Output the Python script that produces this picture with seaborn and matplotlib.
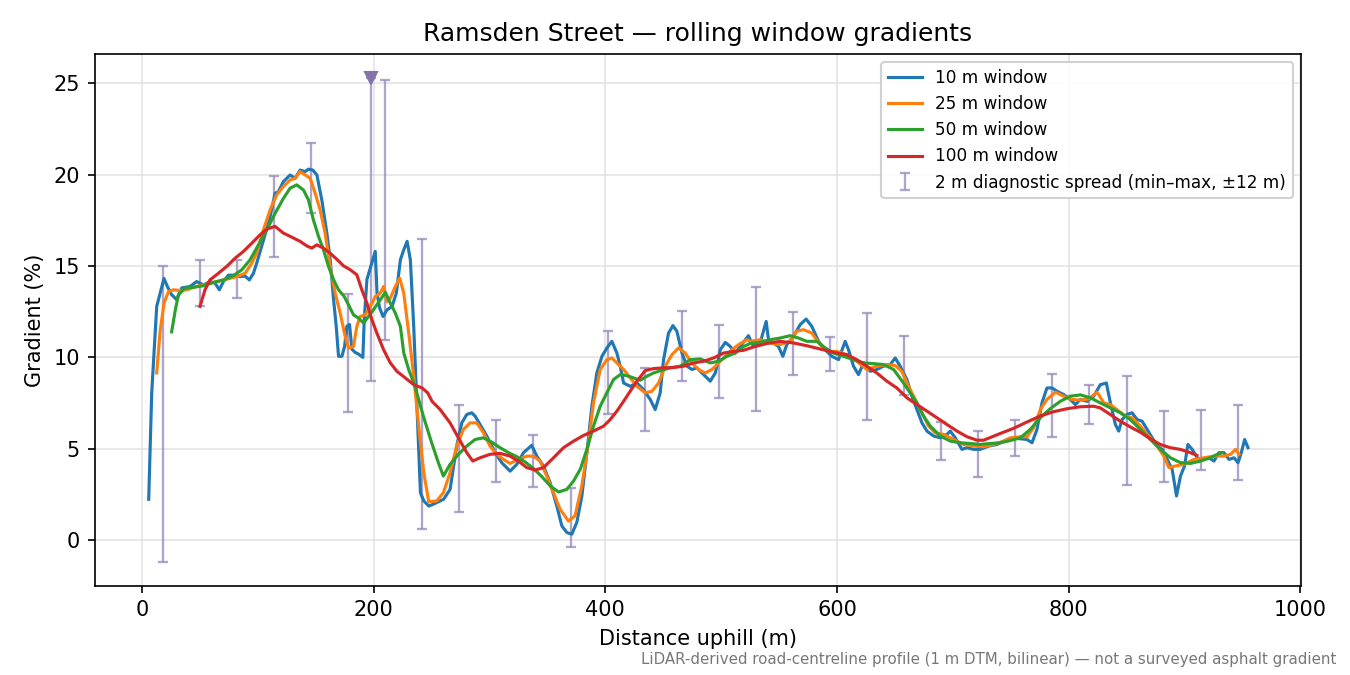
import numpy as np
import pandas as pd
import matplotlib
matplotlib.use("Agg")
import matplotlib.pyplot as plt
import seaborn as sns

# ---------------- data ----------------
w10_x = [5.8, 8.4, 12.7, 15.6, 19.0, 21.9, 25.6, 30.0, 34.3, 41.5, 47.2, 53.0, 58.8, 63.1, 66.8, 70.3, 74.6, 78.9, 84.7, 89.0,
         92.7, 96.2, 99.0, 104.8, 110.6, 114.9, 117.8, 122.1, 127.9, 132.2, 136.5, 140.9, 143.7, 147.5, 151.0, 155.3, 159.6, 162.5,
         165.4, 167.7, 169.7, 172.6, 174.9, 176.9, 179.2, 181.2, 184.1, 187.0, 190.7, 191.9, 194.2, 198.5, 201.4, 202.9, 205.2,
         208.1, 211.5, 215.9, 219.6, 223.1, 226.0, 228.9, 231.7, 234.6, 237.5, 240.4, 243.3, 247.6, 251.6, 260.4, 266.0, 271.7,
         276.1, 280.4, 284.7, 287.6, 291.9, 297.7, 304.9, 310.6, 317.8, 323.6, 329.4, 336.5, 340.9, 346.6, 352.4, 358.1, 362.5,
         366.8, 371.1, 375.4, 379.8, 384.1, 388.4, 392.7, 397.1, 401.4, 405.7, 410.0, 412.9, 415.8, 421.5, 427.3, 433.0, 438.8,
         443.1, 447.4, 450.3, 454.6, 458.4, 461.8, 466.2, 470.5, 474.8, 479.1, 484.9, 490.6, 495.0, 499.3, 503.6, 507.9, 512.2,
         516.5, 523.6, 527.9, 533.7, 538.9, 540.9, 545.2, 549.5, 553.3, 556.7, 562.5, 568.2, 573.4, 578.3, 584.1, 589.8, 595.6,
         601.4, 607.1, 610.0, 614.3, 618.6, 622.9, 628.7, 634.5, 640.2, 646.0, 650.3, 654.6, 660.4, 664.7, 669.1, 673.4, 677.7,
         683.5, 689.2, 695.0, 697.9, 702.2, 707.9, 712.3, 718.0, 723.8, 731.0, 738.2, 746.8, 752.6, 758.3, 764.1, 768.4, 772.7,
         777.0, 781.3, 785.7, 790.0, 795.8, 801.5, 805.8, 810.2, 815.9, 821.7, 827.4, 832.6, 836.1, 840.4, 843.3, 846.2, 850.5,
         854.8, 859.2, 863.5, 867.8, 872.1, 876.5, 880.8, 885.1, 889.4, 893.2, 896.6, 900.1, 903.0, 906.7, 911.1, 915.4, 921.2,
         925.5, 929.8, 934.1, 938.5, 942.8, 946.3, 949.1, 952.0, 954.9]
w10_y = [2.24, 8.06, 12.79, 13.5, 14.32, 13.88, 13.43, 13.16, 13.8, 13.88, 14.15, 13.97, 14.15, 14.06, 13.7, 14.15, 14.5, 14.5,
         14.42, 14.45, 14.24, 14.6, 15.15, 16.4, 17.7, 18.98, 19.07, 19.62, 19.98, 19.8, 20.25, 20.17, 20.3, 20.25, 19.98, 18.6,
         16.8, 15.34, 13.16, 11.7, 10.06, 10.06, 10.6, 11.7, 11.8, 10.45, 10.27, 10.18, 10.0, 12.08, 14.27, 15.18, 15.8, 13.52,
         12.7, 12.24, 12.6, 12.79, 13.52, 15.34, 15.89, 16.35, 15.34, 11.7, 7.15, 2.6, 2.15, 1.87, 1.97, 2.24, 2.78, 5.15, 6.42,
         6.88, 6.97, 6.79, 6.33, 5.7, 4.79, 4.24, 3.78, 4.15, 4.79, 5.19, 4.6, 4.06, 3.15, 1.88, 0.78, 0.42, 0.33, 0.97, 2.42,
         4.79, 7.33, 9.15, 10.06, 10.52, 10.88, 10.24, 9.52, 8.6, 8.42, 8.6, 8.24, 7.7, 7.15, 8.06, 9.88, 11.33, 11.74, 11.43,
         10.24, 9.52, 9.34, 9.43, 9.06, 8.7, 9.15, 10.42, 10.82, 10.6, 10.24, 10.6, 11.19, 10.6, 10.79, 11.97, 10.97, 10.79,
         10.6, 10.06, 10.7, 11.15, 11.79, 12.1, 11.7, 10.88, 10.42, 10.06, 9.88, 10.88, 10.42, 9.52, 9.06, 9.7, 9.24, 9.34,
         9.52, 9.61, 9.97, 9.52, 8.79, 7.88, 7.15, 6.42, 5.97, 5.7, 5.6, 5.79, 5.97, 5.6, 4.97, 5.06, 4.97, 4.97, 5.15, 5.24,
         5.5, 5.6, 5.55, 5.51, 5.33, 6.06, 7.51, 8.33, 8.33, 8.15, 7.97, 7.7, 7.42, 7.7, 7.6, 7.88, 8.51, 8.6, 7.51, 6.33, 5.97,
         6.6, 6.88, 6.97, 6.6, 6.51, 6.06, 5.6, 5.15, 4.97, 4.42, 3.88, 2.42, 3.51, 4.06, 5.24, 4.97, 4.51, 4.42, 4.51, 4.33,
         4.79, 4.79, 4.42, 4.51, 4.24, 4.79, 5.51, 5.06]

w25_x = [12.7, 15.6, 19.0, 22.8, 27.1, 32.8, 38.6, 47.2, 55.9, 64.5, 73.2, 81.8, 89.0, 94.7, 99.0, 104.8, 110.6, 116.3, 122.1,
         127.9, 132.2, 136.5, 140.9, 145.2, 149.5, 153.8, 158.1, 162.5, 166.8, 171.1, 175.4, 178.3, 182.6, 185.5, 188.4, 192.7,
         197.1, 201.4, 205.7, 208.6, 211.5, 214.4, 218.7, 222.5, 226.0, 230.3, 234.6, 238.9, 243.3, 247.6, 254.5, 260.2, 266.0,
         271.7, 277.5, 283.3, 289.0, 294.8, 300.5, 306.3, 312.1, 317.8, 325.0, 332.2, 338.0, 343.7, 349.5, 355.3, 361.0, 368.2,
         373.9, 379.7, 385.5, 389.8, 395.6, 401.4, 405.7, 410.0, 415.8, 421.5, 427.3, 434.5, 440.3, 446.0, 451.8, 457.5, 463.3,
         469.0, 474.8, 480.6, 486.3, 492.1, 497.8, 503.6, 509.4, 515.1, 522.3, 525.0, 533.7, 542.3, 550.9, 559.6, 565.3, 571.1,
         578.3, 585.5, 592.7, 599.9, 608.5, 617.1, 625.8, 634.4, 643.1, 650.3, 656.0, 661.8, 667.6, 673.3, 679.1, 684.8, 692.0,
         700.7, 709.3, 718.0, 726.6, 735.2, 743.9, 749.6, 758.3, 764.1, 769.8, 775.6, 781.3, 788.6, 795.8, 803.0, 810.2, 817.4,
         824.6, 830.4, 836.1, 843.3, 849.1, 854.8, 862.0, 869.2, 876.5, 882.2, 886.6, 892.3, 899.5, 908.2, 916.8, 925.5, 934.1,
         939.9, 944.2, 947.1]
w25_y = [9.15, 11.4, 12.96, 13.6, 13.7, 13.66, 13.7, 13.88, 14.02, 14.15, 14.28, 14.42, 14.6, 15.15, 15.7, 16.97, 18.07, 18.89,
         19.35, 19.71, 19.8, 20.17, 19.98, 19.8, 18.98, 18.07, 16.8, 14.98, 13.52, 12.43, 11.15, 10.51, 10.6, 11.7, 12.24, 12.33,
         12.79, 13.33, 13.52, 13.88, 13.06, 13.24, 13.88, 14.33, 13.52, 11.33, 8.97, 6.24, 3.69, 2.1, 2.15, 2.6, 3.69, 5.15, 6.06,
         6.42, 6.42, 5.88, 5.15, 4.7, 4.42, 4.2, 4.42, 4.6, 4.6, 4.33, 3.51, 2.6, 1.69, 1.05, 1.33, 2.97, 5.33, 7.51, 9.34, 9.88,
         9.97, 9.7, 9.34, 8.88, 8.42, 8.06, 8.15, 8.6, 9.52, 10.15, 10.52, 10.24, 9.7, 9.34, 9.15, 9.34, 9.7, 10.06, 10.42, 10.7,
         10.97, 10.88, 10.97, 10.79, 10.7, 10.88, 11.43, 11.52, 11.33, 10.7, 10.33, 10.33, 10.15, 9.79, 9.34, 9.52, 9.61, 9.56,
         9.24, 8.42, 7.7, 6.97, 6.24, 5.88, 5.79, 5.51, 5.24, 5.15, 5.11, 5.24, 5.42, 5.6, 5.66, 5.66, 6.15, 7.15, 7.7, 8.1, 7.88,
         7.7, 7.66, 7.73, 8.1, 7.51, 7.42, 7.06, 6.79, 6.7, 6.24, 5.69, 5.15, 4.6, 3.97, 4.06, 4.15, 4.42, 4.51, 4.6, 4.6, 4.7,
         4.97, 4.7]

w50_x = [25.6, 28.5, 31.4, 37.1, 44.3, 53.0, 61.6, 70.3, 78.9, 86.1, 93.3, 100.5, 107.7, 114.9, 122.1, 127.9, 133.6, 139.4,
         143.7, 148.0, 152.4, 156.7, 161.0, 165.4, 169.7, 174.6, 178.3, 182.6, 187.0, 191.3, 195.6, 199.9, 205.7, 210.1, 214.4,
         218.7, 223.1, 226.0, 230.3, 235.7, 242.9, 250.1, 255.9, 260.2, 266.0, 273.2, 280.4, 287.6, 294.8, 302.0, 309.2, 316.4,
         323.6, 330.8, 338.0, 345.2, 352.4, 359.6, 366.8, 372.6, 378.4, 384.1, 389.8, 395.6, 401.4, 407.1, 412.9, 418.6, 424.4,
         430.2, 435.9, 441.7, 448.9, 456.1, 464.7, 473.4, 482.0, 490.6, 497.8, 505.0, 512.2, 519.4, 525.0, 533.7, 542.3, 550.9,
         559.6, 566.8, 574.0, 582.6, 589.8, 597.0, 605.7, 614.3, 622.9, 631.6, 640.2, 648.9, 657.5, 663.3, 669.1, 674.8, 680.6,
         689.2, 697.9, 706.5, 715.1, 723.8, 732.4, 741.0, 749.6, 758.3, 766.9, 775.6, 784.2, 792.9, 801.5, 810.2, 818.8, 827.4,
         836.1, 844.7, 853.3, 862.0, 870.6, 879.3, 887.9, 896.6, 905.2, 913.8, 922.5, 928.3, 932.6]
w50_y = [11.4, 12.5, 13.43, 13.79, 13.84, 13.92, 14.1, 14.24, 14.47, 14.79, 15.34, 16.16, 16.97, 17.88, 18.7, 19.26, 19.44,
         19.16, 18.62, 17.52, 16.62, 15.89, 14.98, 14.25, 13.7, 13.33, 12.88, 12.33, 12.15, 11.88, 12.24, 12.61, 13.15, 13.56,
         12.97, 12.43, 11.7, 10.24, 9.33, 8.42, 6.79, 5.33, 4.24, 3.51, 4.15, 4.7, 5.15, 5.51, 5.6, 5.36, 5.06, 4.79, 4.57, 4.28,
         3.92, 3.48, 2.97, 2.64, 2.78, 3.24, 3.88, 4.97, 6.24, 7.33, 8.06, 8.79, 9.06, 9.0, 8.88, 8.75, 8.97, 9.15, 9.3, 9.43,
         9.52, 9.88, 9.92, 9.7, 9.79, 10.06, 10.24, 10.6, 10.76, 10.83, 10.97, 11.06, 11.19, 11.06, 10.88, 10.88, 10.52, 10.24,
         10.06, 9.88, 9.7, 9.66, 9.61, 9.34, 8.6, 8.06, 7.51, 6.79, 6.24, 5.7, 5.42, 5.33, 5.29, 5.24, 5.29, 5.33, 5.45, 5.6,
         6.06, 6.7, 7.2, 7.6, 7.88, 7.95, 7.79, 7.51, 7.24, 6.97, 6.6, 6.06, 5.51, 4.97, 4.51, 4.24, 4.2, 4.33, 4.51, 4.7, 4.79]

w100_x = [50.1, 54.4, 58.7, 65.9, 73.2, 80.4, 87.6, 94.8, 102.0, 107.7, 114.9, 122.1, 129.3, 136.5, 142.3, 146.6, 150.9,
          156.7, 162.5, 168.2, 174.0, 179.7, 185.5, 189.8, 194.2, 198.5, 202.8, 208.6, 214.4, 220.1, 227.3, 234.6, 241.8, 246.7,
          250.4, 257.4, 266.0, 273.2, 280.4, 285.6, 291.9, 300.5, 309.2, 317.8, 325.0, 332.2, 339.4, 346.6, 355.3, 363.9, 372.6,
          381.2, 389.8, 398.5, 404.2, 410.0, 415.8, 421.5, 427.3, 434.5, 441.7, 450.3, 459.0, 467.6, 476.2, 484.9, 493.5, 502.1,
          510.8, 519.4, 527.9, 539.4, 550.9, 562.5, 574.0, 585.5, 597.0, 608.5, 617.1, 625.8, 634.4, 643.1, 651.7, 660.4, 669.1,
          677.7, 686.3, 695.0, 703.6, 712.3, 720.9, 726.6, 735.2, 743.9, 752.5, 763.9, 775.4, 786.9, 798.5, 810.0, 821.5, 827.3,
          835.9, 844.6, 853.2, 861.8, 870.5, 879.1, 887.8, 896.4, 905.1, 910.8]
w100_y = [12.79, 13.7, 14.24, 14.6, 14.98, 15.43, 15.8, 16.25, 16.71, 17.02, 17.17, 16.8, 16.58, 16.35, 16.1, 15.98, 16.16,
          15.98, 15.7, 15.37, 15.01, 14.8, 14.52, 13.7, 12.97, 12.06, 11.33, 10.42, 9.7, 9.24, 8.88, 8.51, 8.33, 8.06, 7.6, 7.15,
          6.42, 5.6, 4.79, 4.33, 4.51, 4.7, 4.75, 4.6, 4.33, 3.97, 3.84, 3.97, 4.51, 5.06, 5.42, 5.73, 5.97, 6.24, 6.6, 7.06, 7.6,
          8.15, 8.7, 9.28, 9.39, 9.43, 9.45, 9.52, 9.7, 9.79, 9.97, 10.24, 10.33, 10.39, 10.57, 10.76, 10.88, 10.79, 10.64,
          10.46, 10.28, 10.15, 9.88, 9.52, 9.15, 8.7, 8.33, 7.79, 7.42, 7.06, 6.7, 6.33, 5.97, 5.66, 5.47, 5.47, 5.69, 5.91,
          6.12, 6.46, 6.79, 7.03, 7.19, 7.3, 7.33, 7.24, 6.88, 6.51, 6.2, 5.91, 5.55, 5.24, 5.06, 4.97, 4.79, 4.64]

# 2 m diagnostic spread (min / max) every 32 m
spread_x = [18, 50, 82, 114, 146, 178, 210, 242, 274, 306, 338, 370, 402, 434, 466, 498,
            530, 562, 594, 626, 658, 690, 722, 754, 786, 818, 850, 882, 914, 946]
spread_min = [-1.18, 12.79, 13.26, 15.52, 17.92, 7.0, 10.93, 0.6, 1.55, 3.18, 2.89, -0.35, 6.88, 6.0, 8.7, 7.77,
              7.06, 9.02, 9.24, 6.6, 7.93, 4.38, 3.44, 4.6, 5.64, 6.35, 3.02, 3.18, 3.84, 3.29]
spread_max = [15.01, 15.34, 15.34, 19.92, 21.74, 13.48, 25.2, 16.48, 7.37, 6.55, 5.75, 2.86, 11.43, 9.41, 12.55, 11.75,
              13.88, 12.46, 11.1, 12.41, 11.15, 6.48, 5.95, 6.6, 9.12, 8.47, 8.97, 7.06, 7.15, 7.39]

# off-scale spike marker
spike_x = [198]
spike_min = [8.7]
spike_max = [25.27]

# ---------------- plot ----------------
fig, ax = plt.subplots(figsize=(9, 4.5), dpi=150)
fig.subplots_adjust(left=0.070, right=0.964, top=0.920, bottom=0.132)

series = [
    ("10 m window", w10_x, w10_y, "#1f77b4"),
    ("25 m window", w25_x, w25_y, "#ff7f0e"),
    ("50 m window", w50_x, w50_y, "#2ca02c"),
    ("100 m window", w100_x, w100_y, "#d62728"),
]
for label, xs, ys, col in series:
    df = pd.DataFrame({"x": xs, "y": ys})
    sns.lineplot(data=df, x="x", y="y", ax=ax, color=col, linewidth=1.5,
                 label=label, estimator=None, sort=False, zorder=3)

ecol = "#9a8fbd"
sx = np.array(spread_x, dtype=float)
smin = np.array(spread_min)
smax = np.array(spread_max)
mid = (smin + smax) / 2
ax.errorbar(sx, mid, yerr=[mid - smin, smax - mid], fmt="none", ecolor=ecol,
            elinewidth=1.1, capsize=2.5, capthick=1.1, alpha=0.8, zorder=2,
            label="2 m diagnostic spread (min–max, ±12 m)")

kx = np.array(spike_x, dtype=float)
kmin = np.array(spike_min)
kmax = np.array(spike_max)
kmid = (kmin + kmax) / 2
ax.errorbar(kx, kmid, yerr=[kmid - kmin, kmax - kmid], fmt="none", ecolor=ecol,
            elinewidth=1.1, capsize=2.5, capthick=1.1, alpha=0.8, zorder=2)
ax.plot(kx, kmax, linestyle="none", marker="v", markersize=6, color="#8474aa", zorder=4)

ax.set_xlim(-41, 1001)
ax.set_ylim(-2.5, 26.6)
ax.set_xticks([0, 200, 400, 600, 800, 1000])
ax.set_yticks([0, 5, 10, 15, 20, 25])
ax.grid(True, color="#dddddd", linewidth=0.8, alpha=0.8)
ax.set_axisbelow(True)
ax.tick_params(labelsize=10)
ax.set_xlabel("Distance uphill (m)", fontsize=10)
ax.set_ylabel("Gradient (%)", fontsize=10)
ax.set_title("Ramsden Street — rolling window gradients", fontsize=12)

ax.legend(loc="upper right", fontsize=8.1, framealpha=0.9, borderaxespad=0.5, labelspacing=0.48)

fig.text(0.990, 0.012, "LiDAR-derived road-centreline profile (1 m DTM, bilinear) — not a surveyed asphalt gradient",
         ha="right", va="bottom", fontsize=7.2, color="#777777")

fig.savefig("out.png", dpi=150)
